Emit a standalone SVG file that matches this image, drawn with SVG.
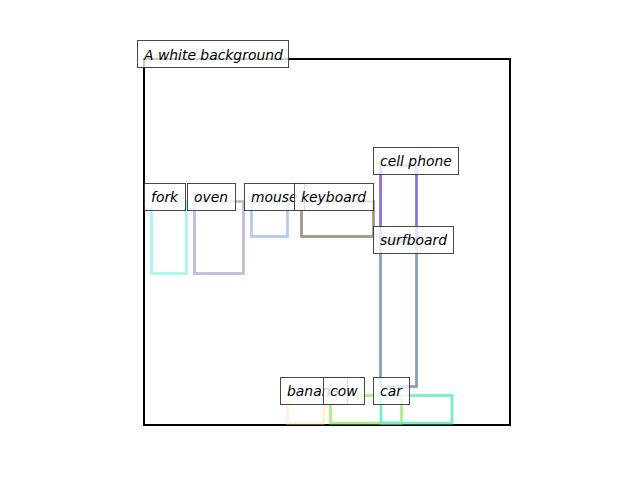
<svg xmlns="http://www.w3.org/2000/svg" width="640" height="480" viewBox="0 0 640 480">
  <style>
    .lbl rect { fill: #ffffff; fill-opacity: 0.8; stroke: #333333; stroke-opacity: 0.9; stroke-width: 1; }
    .lbl text { font-family: "DejaVu Sans", sans-serif; font-style: italic; font-size: 13.9px; fill: #000; }
    .box { fill: none; stroke-width: 2.7; }
  </style>
  <rect x="0" y="0" width="640" height="480" fill="#ffffff"/>
  <!-- plot frame -->
  <rect id="frame" x="144" y="59" width="366" height="366" fill="none" stroke="#000" stroke-width="2"/>

  <!-- object boxes -->
  <g id="boxes">
    <rect class="box" x="151.5" y="201.5" width="35" height="72" stroke="#a6f6ea"/>
    <rect class="box" x="194.5" y="201.5" width="49" height="72" stroke="#c2b8dc"/>
    <rect class="box" x="251.5" y="201.5" width="36" height="35" stroke="#b2c8ee"/>
    <rect class="box" x="301.5" y="201.5" width="72" height="35" stroke="#a89084"/>
    <rect class="box" x="380.5" y="165.5" width="36" height="75" stroke="#8a6cea"/>
    <rect class="box" x="380.5" y="241.5" width="36" height="145" stroke="#809cbc"/>
    <rect class="box" x="287.5" y="401" width="36" height="22" stroke="#fff2d4"/>
    <rect class="box" x="330.5" y="395.5" width="71" height="27.5" stroke="#a4f27c"/>
    <rect class="box" x="381" y="395.5" width="71" height="27.5" stroke="#6ef0c4"/>
  </g>

  <!-- labels -->
  <g id="title" class="lbl">
    <rect x="137.5" y="40.5" width="151" height="27"/>
    <text x="144" y="59.5">A white background</text>
  </g>
  <g id="fork" class="lbl">
    <rect x="144.5" y="183.5" width="41" height="27"/>
    <text x="151" y="202">fork</text>
  </g>
  <g id="oven" class="lbl">
    <rect x="187.5" y="183.5" width="48" height="27"/>
    <text x="194" y="202">oven</text>
  </g>
  <g id="mouse" class="lbl">
    <rect x="244.5" y="183.5" width="60" height="27"/>
    <text x="251" y="202">mouse</text>
  </g>
  <g id="keyboard" class="lbl">
    <rect x="294.5" y="183.5" width="79" height="27"/>
    <text x="301" y="202">keyboard</text>
  </g>
  <g id="cell-phone" class="lbl">
    <rect x="373.5" y="147.5" width="85" height="27"/>
    <text x="380" y="166">cell phone</text>
  </g>
  <g id="surfboard" class="lbl">
    <rect x="373.5" y="226.5" width="80" height="27"/>
    <text x="380" y="245">surfboard</text>
  </g>
  <g id="banana" class="lbl">
    <rect x="280.5" y="377.5" width="67" height="27"/>
    <text x="287" y="396">banana</text>
  </g>
  <g id="cow" class="lbl">
    <rect x="323.5" y="377.5" width="41" height="27"/>
    <text x="330" y="396">cow</text>
  </g>
  <g id="car" class="lbl">
    <rect x="373.5" y="377.5" width="36" height="27"/>
    <text x="380" y="396">car</text>
  </g>
</svg>
